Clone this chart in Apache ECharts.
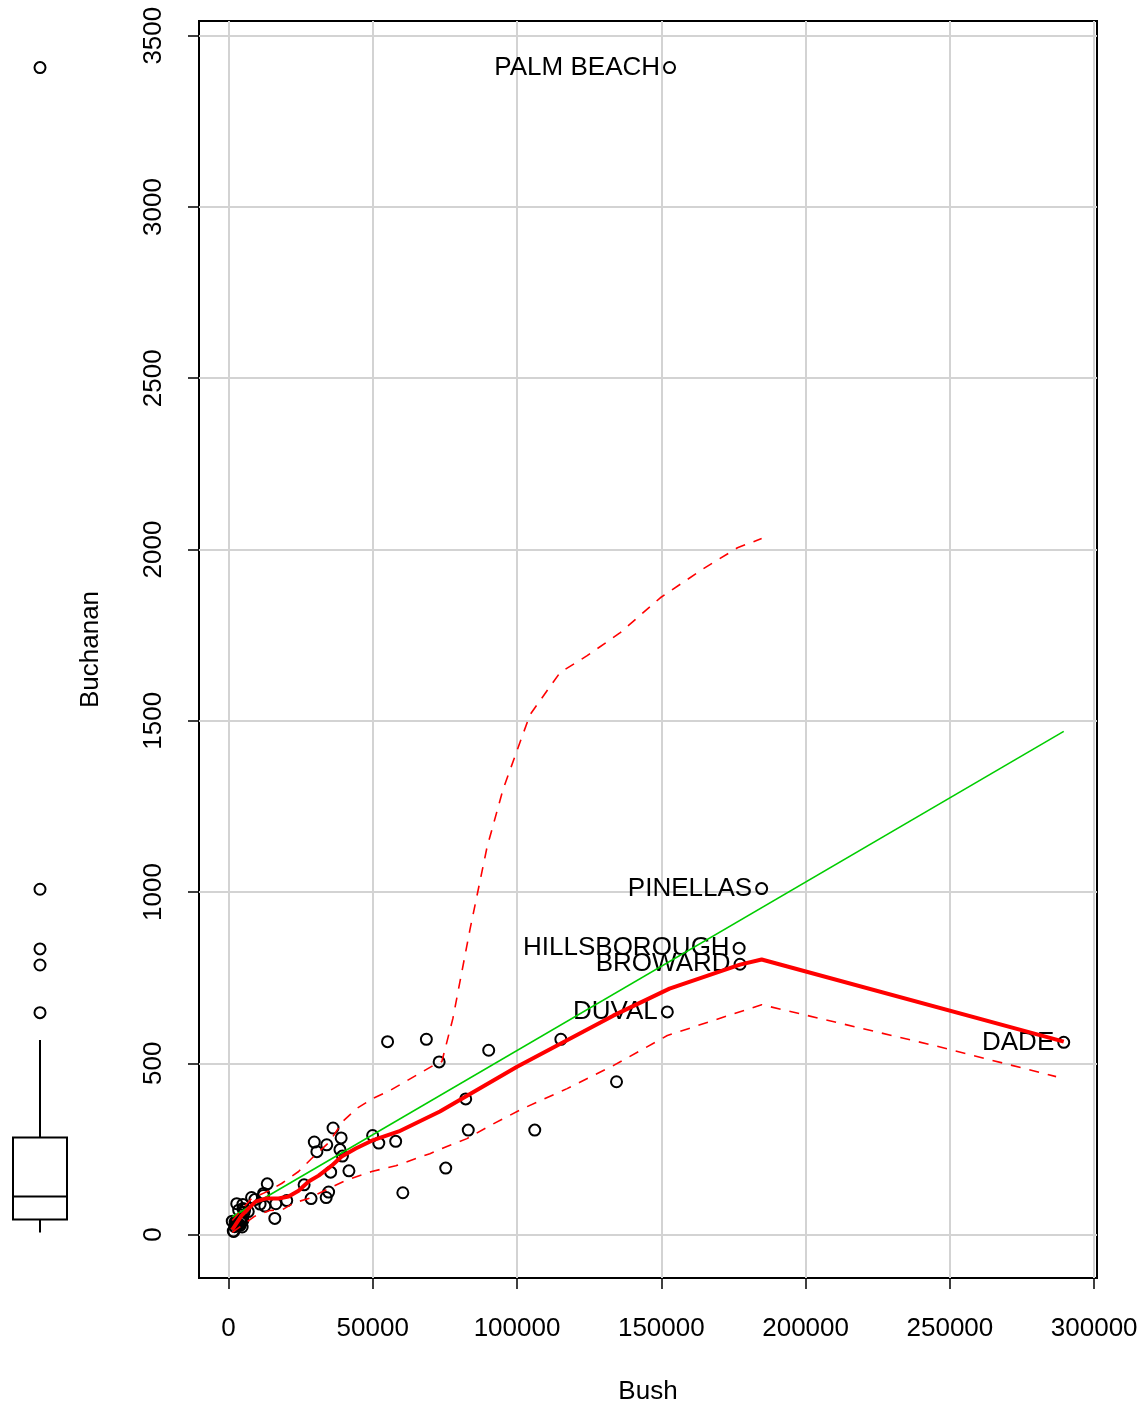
<!DOCTYPE html>
<html>
<head>
<meta charset="utf-8">
<script src="https://cdn.jsdelivr.net/npm/echarts@6/dist/echarts.min.js"></script>
<style>
  html, body { margin: 0; padding: 0; background: #fff; }
  #chart { width: 1144px; height: 1410px; }
</style>
</head>
<body>
<div id="chart"></div>
<script>
const counties = ['ALACHUA', 'BAKER', 'BAY', 'BRADFORD', 'BREVARD', 'BROWARD', 'CALHOUN', 'CHARLOTTE', 'CITRUS', 'CLAY',
  'COLLIER', 'COLUMBIA', 'DADE', 'DE SOTO', 'DIXIE', 'DUVAL', 'ESCAMBIA', 'FLAGLER', 'FRANKLIN', 'GADSDEN',
  'GILCHRIST', 'GLADES', 'GULF', 'HAMILTON', 'HARDEE', 'HENDRY', 'HERNANDO', 'HIGHLANDS', 'HILLSBOROUGH', 'HOLMES',
  'INDIAN RIVER', 'JACKSON', 'JEFFERSON', 'LAFAYETTE', 'LAKE', 'LEE', 'LEON', 'LEVY', 'LIBERTY', 'MADISON',
  'MANATEE', 'MARION', 'MARTIN', 'MONROE', 'NASSAU', 'OKALOOSA', 'OKEECHOBEE', 'ORANGE', 'OSCEOLA', 'PALM BEACH',
  'PASCO', 'PINELLAS', 'POLK', 'PUTNAM', 'ST. JOHNS', 'ST. LUCIE', 'SANTA ROSA', 'SARASOTA', 'SEMINOLE', 'SUMTER',
  'SUWANNEE', 'TAYLOR', 'UNION', 'VOLUSIA', 'WAKULLA', 'WALTON', 'WASHINGTON']
const bush = [34062, 5610, 38637, 5413, 115185, 177279, 2873, 35419, 29744, 41745,
  60426, 10964, 289456, 4256, 2698, 152082, 73017, 12613, 2448, 4750,
  3300, 1841, 3546, 2153, 3764, 4743, 30646, 20196, 176967, 5011,
  28627, 9138, 2481, 1669, 49963, 106141, 39053, 6860, 1316, 3038,
  57948, 55135, 33864, 16059, 16404, 52093, 5057, 134476, 26212, 152846,
  68581, 184769, 90180, 13447, 39497, 34705, 36248, 83100, 75293, 12126,
  8006, 4051, 2326, 82214, 4511, 12176, 4983]
const buchanan = [262, 73, 248, 65, 570, 789, 90, 182, 270, 186,
  122, 89, 561, 36, 29, 650, 504, 83, 33, 38,
  29, 9, 71, 23, 30, 22, 242, 99, 836, 76,
  105, 102, 29, 10, 289, 305, 282, 67, 39, 29,
  272, 563, 108, 47, 90, 267, 43, 446, 145, 3407,
  570, 1010, 538, 148, 229, 124, 311, 305, 194, 114,
  108, 27, 37, 396, 46, 120, 88]
const labelled = ['PALM BEACH', 'PINELLAS', 'HILLSBOROUGH', 'BROWARD', 'DUVAL', 'DADE']

// least squares line (green)
const fitBush = [1316, 289456]
const fitBuchanan = [52, 1469]

// smoother (red) and its spread (dashed)
const smoothBush = [1316, 4514, 9375, 12847, 17361, 20833, 24306, 27778, 31250, 35764, 39236, 44097, 49653, 59028, 73264, 100000, 133333, 152846, 177279, 184769, 289456]
const smoothFit = [14, 55, 96, 105, 105, 111, 128, 155, 172, 201, 228, 251, 274, 301, 359, 490, 639, 718, 788, 803, 563]
const upperBush = [1316, 7986, 13542, 18403, 24306, 28819, 35069, 39583, 44444, 50000, 55903, 70833, 73958, 77778, 83681, 89583, 95139, 100000, 104514, 107986, 114931, 124306, 135764, 149653, 164583, 176389, 184769]
const upperFit = [41, 105, 126, 149, 184, 222, 271, 330, 368, 397, 420, 493, 505, 631, 890, 1130, 1299, 1413, 1518, 1559, 1641, 1690, 1757, 1859, 1944, 2005, 2032]
const lowerBush = [1316, 9028, 14236, 18750, 22917, 27778, 31250, 40625, 49653, 57986, 69792, 75694, 82639, 90625, 102083, 117361, 133333, 152083, 184769, 244444, 286806]
const lowerFit = [6, 53, 70, 73, 93, 105, 120, 158, 184, 201, 236, 257, 280, 318, 368, 426, 493, 581, 671, 552, 461]

// marginal boxplot of Buchanan: whisker low, Q1, median, Q3, whisker high
const boxStats = [9, 46.5, 114, 285.5, 570]
const boxOutliers = [650, 789, 836, 1010, 3407]

const xTicks = [0, 50000, 100000, 150000, 200000, 250000, 300000]
const yTicks = [0, 500, 1000, 1500, 2000, 2500, 3000, 3500]

const font = 'Liberation Sans, Arial, sans-serif'
const xRange = [-10209.6, 300981.6]
const yRange = [-126.92, 3542.92]

const pairs = (xs, ys) => xs.map((x, i) => [x, ys[i]])
const plain = v => String(v)

const points = counties.map((name, i) => {
  const item = { name, value: [bush[i], buchanan[i]] }
  if (labelled.includes(name)) item.label = { show: true }
  return item
})

const chart = echarts.init(document.getElementById('chart'))

chart.setOption({
  animation: false,
  backgroundColor: '#fff',
  textStyle: { fontFamily: font, color: '#000' },
  grid: [
    { left: 199, top: 21, width: 898, height: 1258, show: true, borderColor: '#000', borderWidth: 2, backgroundColor: 'transparent' },
    { left: 13, top: 21, width: 54, height: 1258 },
  ],
  xAxis: [
    {
      type: 'value',
      gridIndex: 0,
      min: xRange[0],
      max: xRange[1],
      name: 'Bush',
      nameLocation: 'middle',
      nameGap: 101,
      nameTextStyle: { fontSize: 26, color: '#000', fontFamily: font },
      axisLine: { show: false, onZero: false },
      axisTick: { show: true, customValues: xTicks, length: 11, lineStyle: { color: '#000', width: 1.5 } },
      axisLabel: { customValues: xTicks, formatter: plain, fontSize: 26, color: '#000', margin: 38, fontFamily: font },
      splitLine: { show: true, lineStyle: { color: '#d3d3d3', width: 2 } },
    },
    { type: 'value', gridIndex: 1, min: 0, max: 1, show: false },
  ],
  yAxis: [
    {
      type: 'value',
      gridIndex: 0,
      min: yRange[0],
      max: yRange[1],
      name: 'Buchanan',
      nameLocation: 'middle',
      nameGap: 95,
      nameTextStyle: { fontSize: 26, color: '#000', fontFamily: font },
      axisLine: { show: false, onZero: false },
      axisTick: { show: true, customValues: yTicks, length: 11, lineStyle: { color: '#000', width: 1.5 } },
      axisLabel: { customValues: yTicks, formatter: plain, rotate: 90, fontSize: 26, color: '#000', margin: 32, fontFamily: font },
      splitLine: { show: true, lineStyle: { color: '#d3d3d3', width: 2 } },
    },
    { type: 'value', gridIndex: 1, min: yRange[0], max: yRange[1], show: false },
  ],
  series: [
    {
      type: 'scatter',
      xAxisIndex: 0,
      yAxisIndex: 0,
      data: points,
      symbol: 'circle',
      symbolSize: 11,
      itemStyle: { color: 'rgba(0,0,0,0)', borderColor: '#000', borderWidth: 2, opacity: 1 },
      label: { show: false, position: 'left', distance: 3, formatter: '{b}', fontSize: 26, color: '#000', fontFamily: font },
      z: 2,
    },
    {
      type: 'line',
      data: pairs(fitBush, fitBuchanan),
      showSymbol: false,
      lineStyle: { color: '#00cd00', width: 1.6 },
      z: 3,
    },
    {
      type: 'line',
      data: pairs(upperBush, upperFit),
      showSymbol: false,
      lineStyle: { color: '#ff0000', width: 1.6, type: [10, 9] },
      z: 3,
    },
    {
      type: 'line',
      data: pairs(lowerBush, lowerFit),
      showSymbol: false,
      lineStyle: { color: '#ff0000', width: 1.6, type: [10, 9] },
      z: 3,
    },
    {
      type: 'line',
      data: pairs(smoothBush, smoothFit),
      showSymbol: false,
      lineStyle: { color: '#ff0000', width: 4 },
      z: 4,
    },
    {
      type: 'custom',
      xAxisIndex: 1,
      yAxisIndex: 1,
      data: [boxStats],
      renderItem(params, api) {
        const lo = api.value(0), q1 = api.value(1), med = api.value(2), q3 = api.value(3), hi = api.value(4)
        const left = api.coord([0, q3])
        const right = api.coord([1, q1])
        const mid = api.coord([0.5, med])[0]
        const yMed = api.coord([0, med])[1]
        const yLo = api.coord([0, lo])[1]
        const yHi = api.coord([0, hi])[1]
        const stroke = { stroke: '#000', lineWidth: 2, fill: null }
        return {
          type: 'group',
          children: [
            { type: 'rect', shape: { x: left[0], y: left[1], width: right[0] - left[0], height: right[1] - left[1] }, style: stroke },
            { type: 'line', shape: { x1: left[0], y1: yMed, x2: right[0], y2: yMed }, style: stroke },
            { type: 'line', shape: { x1: mid, y1: left[1], x2: mid, y2: yHi }, style: stroke },
            { type: 'line', shape: { x1: mid, y1: right[1], x2: mid, y2: yLo }, style: stroke },
          ],
        }
      },
    },
    {
      type: 'scatter',
      xAxisIndex: 1,
      yAxisIndex: 1,
      data: boxOutliers.map(v => [0.5, v]),
      symbol: 'circle',
      symbolSize: 11,
      itemStyle: { color: 'rgba(0,0,0,0)', borderColor: '#000', borderWidth: 2, opacity: 1 },
    },
  ],
})
</script>
</body>
</html>
